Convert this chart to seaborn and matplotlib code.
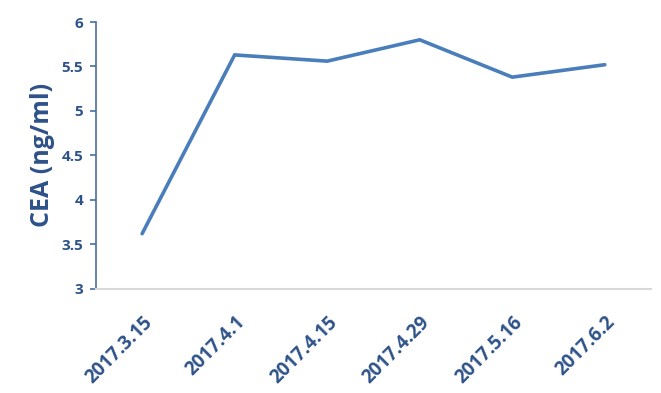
import matplotlib
matplotlib.use("Agg")
import matplotlib.pyplot as plt
import matplotlib.transforms as mtransforms
import seaborn as sns
import pandas as pd

dates = ["2017.3.15", "2017.4.1", "2017.4.15", "2017.4.29", "2017.5.16", "2017.6.2"]
cea = [3.62, 5.63, 5.56, 5.80, 5.38, 5.52]
yticks = [3, 3.5, 4, 4.5, 5, 5.5, 6]
ytick_labels = ["3", "3.5", "4", "4.5", "5", "5.5", "6"]

sns.set_theme(style="white")
plt.rcParams["font.family"] = ["Open Sans", "DejaVu Sans"]

df = pd.DataFrame({"date": dates, "cea": cea, "pos": range(len(dates))})

fig = plt.figure(figsize=(6.61, 3.93), dpi=100)
ax = fig.add_axes([0.145, 0.265, 0.84, 0.679])

text_color = "#2E5288"
line_color = "#4A7EBB"

sns.lineplot(data=df, x="pos", y="cea", ax=ax, color=line_color, linewidth=2.6,
             solid_capstyle="round", solid_joinstyle="miter")

ax.set_xlim(-0.5, len(dates) - 0.5)
ax.set_ylim(3, 6)
ax.set_xticks(range(len(dates)))
ax.set_xticklabels(dates, rotation=45, ha="right", rotation_mode="anchor",
                   fontsize=13.5, fontweight="bold", color=text_color)
offset = mtransforms.ScaledTranslation(7 / 100, 0, fig.dpi_scale_trans)
for lbl in ax.get_xticklabels():
    lbl.set_transform(lbl.get_transform() + offset)
ax.set_yticks(yticks)
ax.set_yticklabels(ytick_labels, fontsize=11, fontweight="bold", color=text_color)

ax.tick_params(axis="x", length=0, pad=17)
ax.tick_params(axis="y", length=4, width=1.2, color="#4A6FA0", direction="out", left=True, pad=5)

ax.set_xlabel("")
ax.set_ylabel("CEA (ng/ml)", fontsize=18, fontweight="bold", color=text_color, labelpad=5)

for s in ["top", "right"]:
    ax.spines[s].set_visible(False)
ax.spines["left"].set_color("#4A6FA0")
ax.spines["left"].set_linewidth(1.2)
ax.spines["bottom"].set_color("#D9D9D9")
ax.spines["bottom"].set_linewidth(1.5)

fig.savefig("out.png", dpi=100)
